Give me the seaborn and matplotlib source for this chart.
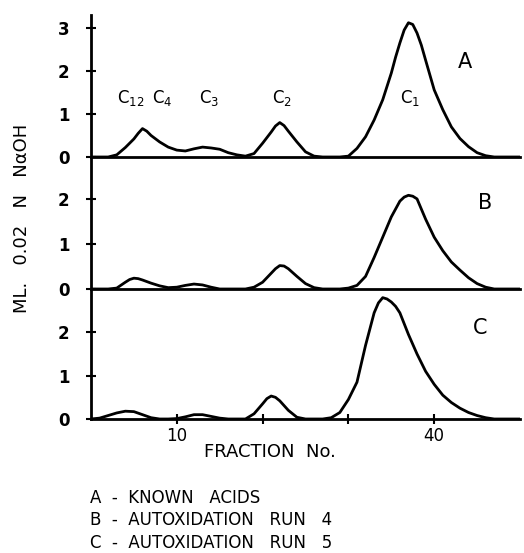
import numpy as np
import pandas as pd
import matplotlib
matplotlib.use("Agg")
import matplotlib.pyplot as plt
import seaborn as sns

# readings at whole fractions, plus a few extra readings near peaks
fraction = list(range(0, 51))
run_a = [0, 0, 0, 0.05, 0.22, 0.42, 0.66, 0.5, 0.35, 0.23, 0.16, 0.14, 0.19, 0.23, 0.21, 0.18, 0.1,
         0.05, 0.02, 0.08, 0.32, 0.58, 0.8, 0.6, 0.35, 0.12, 0.02, 0, 0, 0, 0.02, 0.2, 0.47, 0.86,
         1.33, 1.95, 2.65, 3.12, 2.88, 2.25, 1.56, 1.1, 0.7, 0.43, 0.24, 0.1, 0.03, 0, 0, 0, 0]
run_b = [0, 0, 0, 0.02, 0.15, 0.24, 0.2, 0.13, 0.07, 0.03, 0.04, 0.08, 0.11, 0.09, 0.04, 0, 0,
         0, 0, 0.04, 0.15, 0.35, 0.52, 0.45, 0.28, 0.12, 0.03, 0, 0, 0, 0.02, 0.08, 0.28, 0.7,
         1.15, 1.6, 1.95, 2.08, 2.0, 1.55, 1.15, 0.85, 0.6, 0.42, 0.25, 0.12, 0.04, 0, 0, 0, 0]
run_c = [0, 0.02, 0.08, 0.14, 0.18, 0.17, 0.1, 0.03, 0, 0, 0.01, 0.05, 0.1, 0.1, 0.06, 0.02, 0,
         0, 0, 0.12, 0.35, 0.53, 0.42, 0.2, 0.04, 0, 0, 0, 0.03, 0.15, 0.45, 0.85, 1.7, 2.45,
         2.8, 2.7, 2.45, 1.95, 1.5, 1.1, 0.8, 0.55, 0.38, 0.25, 0.15, 0.08, 0.03, 0, 0, 0, 0]
extra_a_x = [5.5, 6.5, 21.5, 22.5, 35.5, 36.5, 37.5, 38.5]
extra_a_y = [0.55, 0.6, 0.72, 0.73, 2.32, 2.95, 3.08, 2.6]
extra_b_x = [4.5, 5.5, 21.5, 22.5, 36.5, 37.5]
extra_b_y = [0.21, 0.23, 0.45, 0.51, 2.04, 2.06]
extra_c_x = [20.5, 21.5, 33.5, 34.5, 35.5]
extra_c_y = [0.47, 0.5, 2.68, 2.77, 2.6]

panel_names = ["A", "B", "C"]
series = [(run_a, extra_a_x, extra_a_y), (run_b, extra_b_x, extra_b_y), (run_c, extra_c_x, extra_c_y)]
y_tops = [3.3, 2.93, 3.0]
y_ticks = [[0, 1, 2, 3], [0, 1, 2], [0, 1, 2]]
panel_label_pos = [(43.6, 2.2), (45.9, 1.9), (45.3, 2.1)]
peak_labels = ["C$_{12}$", "C$_4$", "C$_3$", "C$_2$", "C$_1$"]
peak_x = [4.6, 8.3, 13.8, 22.3, 37.2]
x_ticks = [10, 20, 30, 40]
x_tick_labels = ["10", "", "", "40"]
legend_lines = ["A  -  KNOWN   ACIDS", "B  -  AUTOXIDATION   RUN   4", "C  -  AUTOXIDATION   RUN   5"]

sns.set_style("ticks")
plt.rcParams["font.family"] = ["DejaVu Sans"]
plt.rcParams["text.color"] = "black"
plt.rcParams["xtick.color"] = "black"
plt.rcParams["ytick.color"] = "black"
plt.rcParams["axes.edgecolor"] = "black"

fig = plt.figure(figsize=(5.24, 5.53), dpi=100)
left, right = 91 / 524, 520 / 524
tops_px = [15, 157, 289]
bots_px = [157, 289, 419]
axes = []
for i in range(3):
    b = 1 - bots_px[i] / 553
    h = (bots_px[i] - tops_px[i]) / 553
    ax = fig.add_axes([left, b, right - left, h])
    axes.append(ax)
    vals, ex, ey = series[i]
    df = pd.DataFrame({"fraction": fraction + ex, "value": vals + ey}).sort_values("fraction")
    sns.lineplot(data=df, x="fraction", y="value", ax=ax, color="black", linewidth=2.0)
    ax.set_xlim(0, 50)
    ax.set_ylim(0, y_tops[i])
    ax.set_yticks(y_ticks[i])
    ax.set_yticklabels([str(t) for t in y_ticks[i]], fontsize=12, fontweight="bold")
    ax.tick_params(axis="y", direction="inout", length=7, width=1.5, pad=12)
    ax.set_xlabel("")
    ax.set_ylabel("")
    for s in ["top", "right"]:
        ax.spines[s].set_visible(False)
    ax.spines["left"].set_linewidth(2.0)
    ax.spines["bottom"].set_linewidth(2.0)
    ax.patch.set_alpha(0)
    if i < 2:
        ax.set_xticks([])
    else:
        ax.set_xticks(x_ticks)
        ax.set_xticklabels(x_tick_labels, fontsize=12)
        ax.tick_params(axis="x", direction="inout", length=7, width=1.5, pad=2)
    ax.text(panel_label_pos[i][0], panel_label_pos[i][1], panel_names[i], fontsize=15,
            ha="center", va="center")

for lbl, px in zip(peak_labels, peak_x):
    axes[0].text(px, 1.37, lbl, fontsize=12, ha="center", va="center")

fig.text(270 / 524, 1 - 452 / 553, "FRACTION  No.", fontsize=13, ha="center", va="center")
fig.text(22 / 524, 1 - 218 / 553, "ML.   0.02   N   NαOH", fontsize=13, rotation=90,
         ha="center", va="center")
for t, ypx in zip(legend_lines, [498, 520, 543]):
    fig.text(90 / 524, 1 - ypx / 553, t, fontsize=12, ha="left", va="center")

fig.savefig("out.png", dpi=100)
